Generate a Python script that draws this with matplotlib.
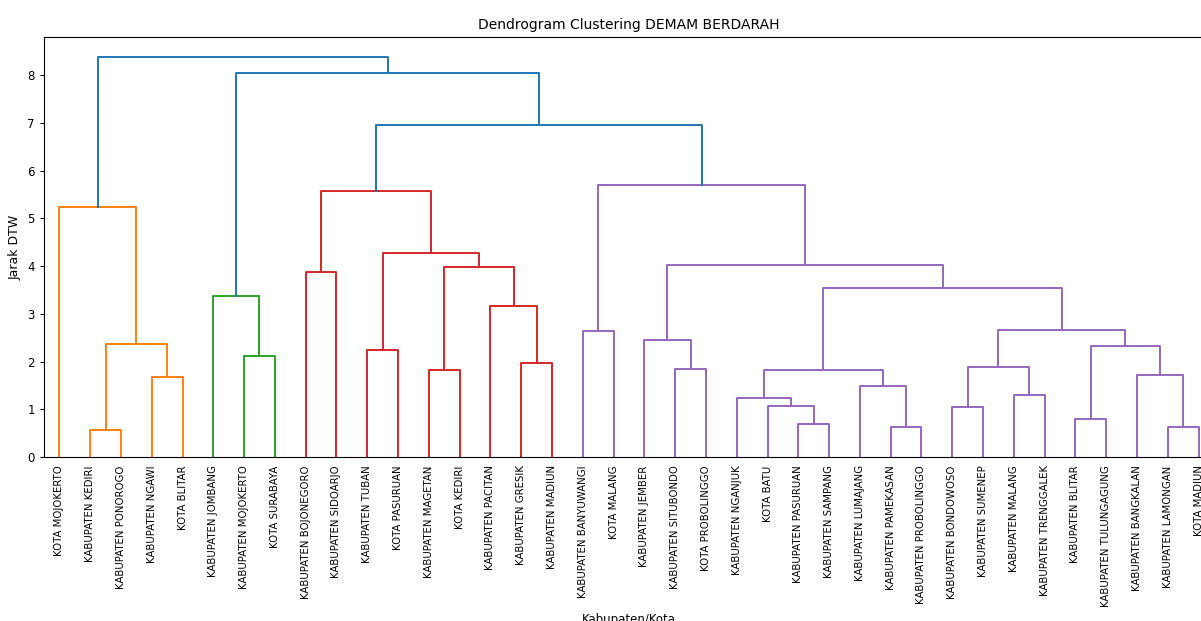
import matplotlib.pyplot as plt

# urutan daun seperti di dendrogram
leaves = [
    'KOTA MOJOKERTO', 'KABUPATEN KEDIRI', 'KABUPATEN PONOROGO', 'KABUPATEN NGAWI',
    'KOTA BLITAR', 'KABUPATEN JOMBANG', 'KABUPATEN MOJOKERTO', 'KOTA SURABAYA',
    'KABUPATEN BOJONEGORO', 'KABUPATEN SIDOARJO', 'KABUPATEN TUBAN', 'KOTA PASURUAN',
    'KABUPATEN MAGETAN', 'KOTA KEDIRI', 'KABUPATEN PACITAN', 'KABUPATEN GRESIK',
    'KABUPATEN MADIUN', 'KABUPATEN BANYUWANGI', 'KOTA MALANG', 'KABUPATEN JEMBER',
    'KABUPATEN SITUBONDO', 'KOTA PROBOLINGGO', 'KABUPATEN NGANJUK', 'KOTA BATU',
    'KABUPATEN PASURUAN', 'KABUPATEN SAMPANG', 'KABUPATEN LUMAJANG', 'KABUPATEN PAMEKASAN',
    'KABUPATEN PROBOLINGGO', 'KABUPATEN BONDOWOSO', 'KABUPATEN SUMENEP', 'KABUPATEN MALANG',
    'KABUPATEN TRENGGALEK', 'KABUPATEN BLITAR', 'KABUPATEN TULUNGAGUNG', 'KABUPATEN BANGKALAN',
    'KABUPATEN LAMONGAN', 'KOTA MADIUN',
]

# linkage: id daun 0..37, gabungan ke-k punya id 38+k
merge_left = [1, 3, 38, 0, 6, 5, 8, 10, 12, 15, 14, 46, 45, 44, 17, 20, 19, 24, 23,
              22, 27, 26, 57, 29, 31, 61, 33, 36, 35, 64, 63, 60, 54, 52, 51, 43, 41]
merge_right = [2, 4, 39, 40, 7, 42, 9, 11, 13, 16, 47, 48, 49, 50, 18, 21, 53, 25, 55,
               56, 28, 58, 59, 30, 32, 62, 34, 37, 65, 66, 67, 68, 69, 70, 71, 72, 73]
merge_height = [0.56, 1.68, 2.37, 5.24, 2.12, 3.38, 3.87, 2.24, 1.83, 1.97, 3.17, 3.99,
                4.27, 5.57, 2.64, 1.84, 2.46, 0.69, 1.06, 1.23, 0.62, 1.49, 1.82, 1.04,
                1.30, 1.88, 0.80, 0.62, 1.71, 2.33, 2.67, 3.55, 4.02, 5.71, 6.97, 8.05, 8.385]

cluster_colors = ['C1', 'C2', 'C3', 'C4']
above_color = 'C0'

n = len(leaves)
threshold = 0.7 * max(merge_height)

# posisi x dan tinggi tiap node
xpos = {i: 5 + 10 * i for i in range(n)}
ypos = {i: 0.0 for i in range(n)}
for k, (a, b, h) in enumerate(zip(merge_left, merge_right, merge_height)):
    xpos[n + k] = (xpos[a] + xpos[b]) / 2
    ypos[n + k] = h

# cari akar klaster (di bawah threshold, induknya di atas)
parent = {}
for k, (a, b) in enumerate(zip(merge_left, merge_right)):
    parent[a] = n + k
    parent[b] = n + k
roots = [n + k for k, h in enumerate(merge_height)
         if h < threshold and ypos[parent.get(n + k, n + k)] >= threshold]
roots.sort(key=lambda r: xpos[r])
root_color = {r: cluster_colors[i % len(cluster_colors)] for i, r in enumerate(roots)}

def node_color(node):
    while node in parent or node in root_color:
        if node in root_color:
            return root_color[node]
        node = parent[node]
    return above_color

fig = plt.figure(figsize=(12.01, 6.21), dpi=100)
ax = fig.add_axes([0.0366, 0.2641, 0.9742, 0.6763])

for k, (a, b, h) in enumerate(zip(merge_left, merge_right, merge_height)):
    c = node_color(n + k)
    ax.plot([xpos[a], xpos[a], xpos[b], xpos[b]], [ypos[a], h, h, ypos[b]],
            color=c, linewidth=1.4)

ax.set_xlim(0, 10 * n)
ax.set_ylim(0, max(merge_height) * 1.05)
ax.set_xticks([5 + 10 * i for i in range(n)])
ax.set_xticklabels(leaves, rotation=90, fontsize=7.3)
ax.tick_params(axis='x', length=0, pad=6)
ax.tick_params(axis='y', labelsize=8.5, length=3)

ax.set_title('Dendrogram Clustering DEMAM BERDARAH', fontsize=10, pad=6)
ax.set_xlabel('Kabupaten/Kota', fontsize=8.5, labelpad=4)
ax.set_ylabel('Jarak DTW', fontsize=9)

fig.savefig('out.png', dpi=100)
